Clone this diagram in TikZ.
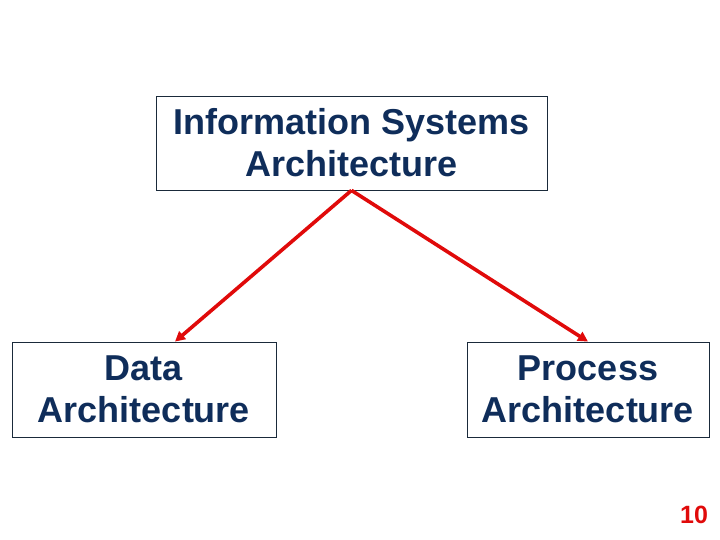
\documentclass[tikz,border=0pt]{standalone}
\usepackage{fontspec}
\setmainfont{Liberation Sans}
\usetikzlibrary{arrows.meta,positioning}
\definecolor{ink}{HTML}{0F2D5A}
\definecolor{frame}{HTML}{1A2A3A}
\definecolor{accent}{HTML}{E00A0A}
\tikzset{
  archbox/.style={draw=frame,line width=0.8pt,align=center,text=ink,font=\fontsize{36}{42}\selectfont\bfseries,inner sep=0pt},
  fl/.style={-{Triangle[length=10pt,width=10pt]},draw=accent,line width=3.6pt},
}
\begin{document}
\begin{tikzpicture}[x=1pt,y=-1pt]
\useasboundingbox (0,0) rectangle (720,540);
\node[archbox,minimum width=391pt,minimum height=94pt] (isa) at (351.5,143) {Information Systems\\ Architecture};
\node[archbox,minimum width=264pt,minimum height=95pt] (da) at (144,389.5) {Data\\ Architecture};
\node[archbox,minimum width=242pt,minimum height=95pt] (pa) at (588,389.5) {Process\\ Architecture};
\node[text=accent,font=\fontsize{25}{28}\selectfont\bfseries] (pg) at (694,515) {10};
\draw[fl] (isa.south) -- (da.north -| 175,0);
\draw[fl] (isa.south) -- (pa.north);
\end{tikzpicture}
\end{document}
